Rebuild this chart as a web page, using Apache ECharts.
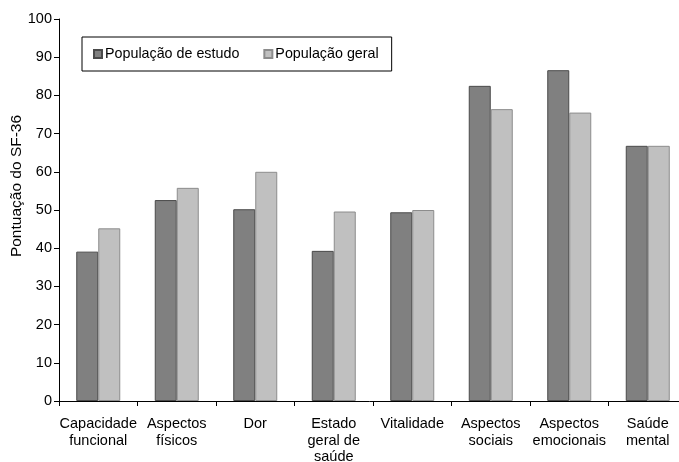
<!DOCTYPE html>
<html>
<head>
<meta charset="utf-8">
<script src="https://cdn.jsdelivr.net/npm/echarts@6/dist/echarts.min.js"></script>
<style>
  html, body { margin: 0; padding: 0; background: #fff; }
  #chart { width: 679px; height: 462px; }
</style>
</head>
<body>
<div id="chart"></div>
<script>
  // categorias (eixo x)
  var categorias = ['Capacidade\nfuncional', 'Aspectos\nfísicos', 'Dor', 'Estado\ngeral de\nsaúde',
                    'Vitalidade', 'Aspectos\nsociais', 'Aspectos\nemocionais', 'Saúde\nmental']
  var populacaoEstudo = [39.1, 52.6, 50.2, 39.3, 49.4, 82.5, 86.6, 66.8]
  var populacaoGeral = [45.2, 55.8, 60.0, 49.6, 50.0, 76.4, 75.5, 66.8]

  var fonte = 'Liberation Sans, Arial, sans-serif'
  var myChart = echarts.init(document.getElementById('chart'))
  myChart.setOption({
    animation: false,
    textStyle: { fontFamily: fonte, color: '#000' },
    legend: {
      left: 82,
      top: 37,
      padding: [10, 13, 10, 11],
      borderColor: '#000',
      borderWidth: 1,
      icon: 'rect',
      itemWidth: 8,
      itemHeight: 8,
      itemGap: 24,
      textStyle: { fontFamily: fonte, fontSize: 14.3, color: '#000', padding: [0, 0, 0, -2] },
      data: ['População de estudo', 'População geral']
    },
    grid: { left: 59, top: 19, width: 628, height: 382, containLabel: false, outerBoundsMode: 'none' },
    xAxis: {
      type: 'category',
      data: categorias,
      axisLine: { lineStyle: { color: '#000', width: 1 } },
      axisTick: { show: true, inside: false, length: 5, lineStyle: { color: '#000' } },
      axisLabel: { fontFamily: fonte, fontSize: 14.5, color: '#000', lineHeight: 16.5, margin: 15, interval: 0 }
    },
    yAxis: {
      type: 'value',
      min: 0,
      max: 100,
      interval: 10,
      name: 'Pontuação do SF-36',
      nameLocation: 'middle',
      nameGap: 34,
      nameMoveOverlap: false,
      nameTextStyle: { fontFamily: fonte, fontSize: 15.5, color: '#000', padding: [0, 0, 0, 48] },
      axisLine: { show: true, lineStyle: { color: '#000', width: 1 } },
      axisTick: { show: true, length: 5, lineStyle: { color: '#000' } },
      axisLabel: { fontFamily: fonte, fontSize: 14.5, color: '#000', margin: 7 },
      splitLine: { show: false }
    },
    series: [
      {
        name: 'População de estudo',
        type: 'bar',
        barWidth: 22,
        barGap: '0%',
        itemStyle: { color: '#808080', borderColor: '#4a4a4a', borderWidth: 1 },
        data: populacaoEstudo
      },
      {
        name: 'População geral',
        type: 'bar',
        barWidth: 22,
        barGap: '0%',
        itemStyle: { color: '#c0c0c0', borderColor: '#8c8c8c', borderWidth: 1 },
        data: populacaoGeral
      }
    ]
  })
</script>
</body>
</html>
